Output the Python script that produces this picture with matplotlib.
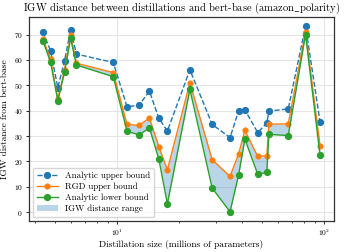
import numpy as np
import matplotlib
matplotlib.use("Agg")
import matplotlib.pyplot as plt

plt.rcParams["font.family"] = ["cmr10", "DejaVu Serif"]
plt.rcParams["mathtext.fontset"] = "cm"
plt.rcParams["axes.formatter.use_mathtext"] = True

# model sizes (millions of parameters)
sizes = [4.39, 4.78, 5.18, 5.58, 5.97, 6.37, 9.59, 11.17, 12.75, 14.33, 15.91, 17.49,
         22.46, 28.76, 35.07, 38.60, 41.37, 47.68, 52.78, 53.98, 66.95, 81.13, 95.30]

analytic_upper = [71.1, 63.5, 49.1, 59.6, 71.8, 62.3, 59.0, 41.6, 42.1, 47.7, 37.0, 32.0,
                  56.1, 34.6, 29.4, 40.0, 40.3, 31.4, 35.1, 39.8, 40.7, 73.3, 35.6]
rgd_upper = [68.4, 60.2, 44.5, 56.0, 69.7, 58.7, 55.0, 34.6, 34.2, 37.1, 25.8, 16.7,
             51.0, 20.7, 14.1, 23.0, 32.2, 22.0, 22.2, 34.7, 34.8, 71.1, 26.1]
analytic_lower = [67.5, 59.1, 44.0, 55.2, 68.5, 58.0, 53.4, 31.9, 30.5, 33.2, 20.9, 3.3,
                  48.4, 9.5, 0.2, 14.8, 28.8, 15.0, 15.7, 30.7, 30.2, 70.0, 22.4]

fig = plt.figure(figsize=(3.46, 2.52), dpi=100)
ax = fig.add_axes([0.084, 0.123, 0.881, 0.81])

ax.plot(sizes, analytic_upper, "--o", color="C0", lw=1.0, ms=4.2,
        label="Analytic upper bound")
ax.plot(sizes, rgd_upper, "-o", color="C1", lw=1.0, ms=3.4,
        label="RGD upper bound")
ax.plot(sizes, analytic_lower, "-o", color="C2", lw=1.0, ms=4.2,
        label="Analytic lower bound")
ax.fill_between(sizes, analytic_lower, rgd_upper, color="C0", alpha=0.3,
                lw=0, label="IGW distance range")

ax.set_xscale("log")
ax.grid(True, color="#e5e5e5", lw=0.8)
ax.set_axisbelow(True)

ax.set_title(r"IGW distance between distillations and bert-base (amazon$\_$polarity)",
             fontsize=7.6, pad=4)
ax.set_xlabel("Distillation size (millions of parameters)", fontsize=6.8, labelpad=2)
ax.set_ylabel("IGW distance from bert-base", fontsize=6.8, labelpad=3)
ax.tick_params(labelsize=5.4, length=2.5, width=0.6, pad=2)
ax.tick_params(which="minor", length=1.5, width=0.5)
ax.set_yticks([0, 10, 20, 30, 40, 50, 60, 70])
for s in ax.spines.values():
    s.set_color("#333333")
    s.set_linewidth(0.9)

ax.legend(loc="lower left", fontsize=6.4, handlelength=2.4, borderpad=0.45,
          labelspacing=0.3, framealpha=0.8, edgecolor="#cccccc", fancybox=True,
          borderaxespad=0.4)

fig.savefig("out.png", dpi=100)
